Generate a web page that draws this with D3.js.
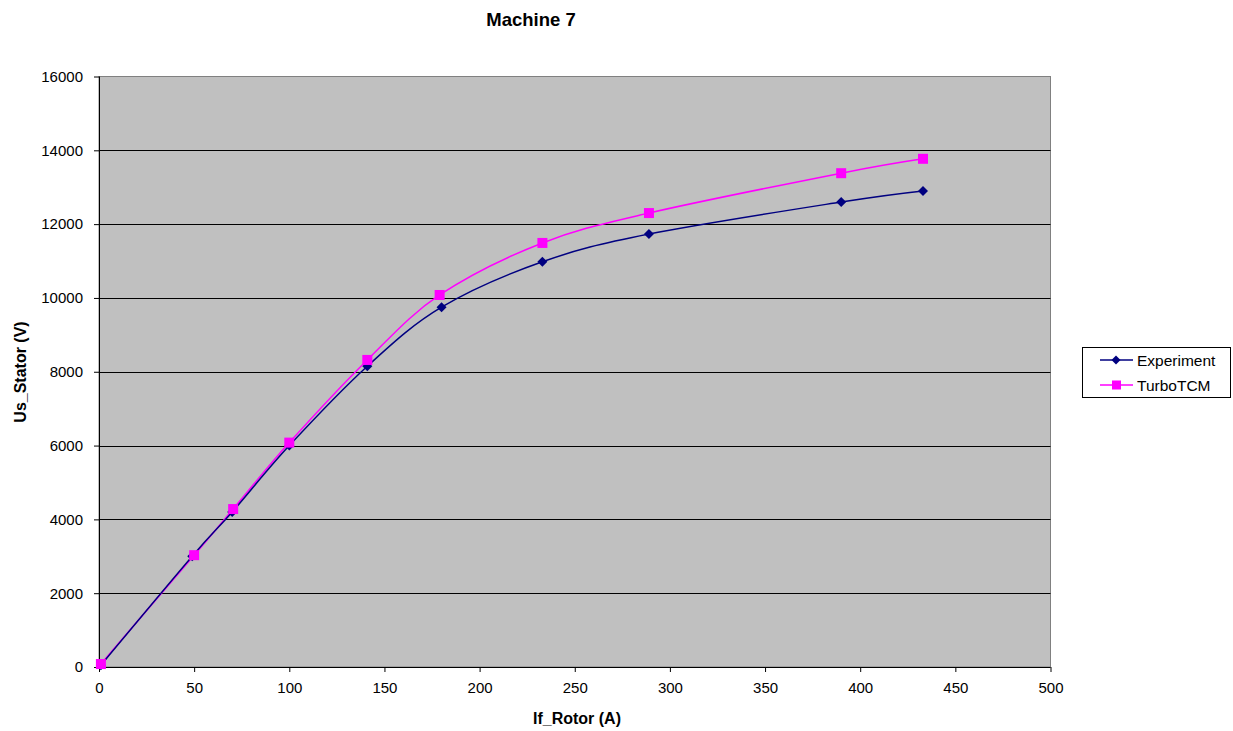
<!DOCTYPE html>
<html><head><meta charset="utf-8">
<script src="https://cdn.jsdelivr.net/npm/d3@7/dist/d3.min.js"></script>
<style>body{margin:0;background:#fff;} text{font-family:"Liberation Sans",Arial,sans-serif;}</style>
</head><body><svg id="c" width="1233" height="731"></svg>
<script>
const title = "Machine 7";
const xTitle = "If_Rotor (A)";
const yTitle = "Us_Stator (V)";
const seriesNames = ["Experiment", "TurboTCM"];
const expX = [1, 49, 70, 100, 141, 180, 233, 289, 390, 433];
const expY = [50, 3000, 4200, 6000, 8150, 9750, 10980, 11730, 12600, 12900];
const tcmX = [1, 50, 70.5, 100, 141, 179, 233, 289, 390, 433];
const tcmY = [80, 3030, 4280, 6080, 8320, 10080, 11490, 12300, 13380, 13770];
const xTicks = [0, 50, 100, 150, 200, 250, 300, 350, 400, 450, 500];
const yTicks = [0, 2000, 4000, 6000, 8000, 10000, 12000, 14000, 16000];

const svg = d3.select("#c");
const L = 99, R = 1050.5, T = 76.5, B = 667;
const x = d3.scaleLinear().domain([0, 500]).range([L, R]);
const y = d3.scaleLinear().domain([0, 16000]).range([B, T]);

svg.append("rect").attr("x", L).attr("y", T).attr("width", R - L).attr("height", B - T)
  .attr("fill", "#c0c0c0").attr("stroke", "#808080").attr("stroke-width", 1);

svg.append("g").selectAll("line").data(yTicks.filter(d => d > 0 && d < 16000)).join("line")
  .attr("x1", L).attr("x2", R).attr("y1", d => Math.round(y(d)) + 0.5).attr("y2", d => Math.round(y(d)) + 0.5)
  .attr("stroke", "#000").attr("stroke-width", 1);

const yAxis = d3.axisLeft(y).tickValues(yTicks).tickSize(5).tickPadding(11).tickFormat(d3.format("d"));
const gy = svg.append("g").attr("transform", `translate(${L},0)`).call(yAxis);
const xAxis = d3.axisBottom(x).tickValues(xTicks).tickSize(5).tickPadding(10).tickFormat(d3.format("d"));
const gx = svg.append("g").attr("transform", `translate(0,${B})`).call(xAxis);
[gx, gy].forEach(g => {
  g.select(".domain").attr("stroke", "#000");
  g.selectAll(".tick line").attr("stroke", "#000");
  g.selectAll("text").attr("font-size", 15).attr("fill", "#000").attr("font-family", '"Liberation Sans",Arial,sans-serif');
});
gy.select(".domain").attr("d", `M0.5,${T}V${B}`);
gx.select(".domain").attr("d", `M${L},0.5H${R}`);

const line = d3.line().x(d => x(d[0])).y(d => y(d[1])).curve(d3.curveCardinal.tension(0));
const expData = expX.map((v, i) => [v, expY[i]]);
const tcmData = tcmX.map((v, i) => [v, tcmY[i]]);

svg.append("path").datum(tcmData).attr("d", line).attr("fill", "none").attr("stroke", "#ff00ff").attr("stroke-width", 1.5);
svg.append("path").datum(expData).attr("d", line).attr("fill", "none").attr("stroke", "#000080").attr("stroke-width", 1.5);

const dia = r => `M0,${-r}L${r},0L0,${r}L${-r},0Z`;
svg.append("g").selectAll("path").data(expData).join("path")
  .attr("transform", d => `translate(${x(d[0])},${y(d[1])})`)
  .attr("d", dia(5)).attr("fill", "#000080");
svg.append("g").selectAll("rect").data(tcmData).join("rect")
  .attr("x", d => x(d[0]) - 5).attr("y", d => y(d[1]) - 5).attr("width", 10).attr("height", 10)
  .attr("fill", "#ff00ff");

svg.append("text").attr("x", 531).attr("y", 26).attr("text-anchor", "middle")
  .attr("font-size", 18.5).attr("font-weight", "bold").text(title);
svg.append("text").attr("x", 577).attr("y", 724).attr("text-anchor", "middle")
  .attr("font-size", 16).attr("font-weight", "bold").text(xTitle);
svg.append("text").attr("transform", "translate(26,372) rotate(-90)").attr("text-anchor", "middle")
  .attr("font-size", 16).attr("font-weight", "bold").text(yTitle);

const lg = svg.append("g");
lg.append("rect").attr("x", 1082.5).attr("y", 347.5).attr("width", 148).attr("height", 50)
  .attr("fill", "#fff").attr("stroke", "#000");
const colors = ["#000080", "#ff00ff"];
seriesNames.forEach((n, i) => {
  const yy = 360 + i * 25;
  lg.append("line").attr("x1", 1100).attr("x2", 1133).attr("y1", yy).attr("y2", yy)
    .attr("stroke", colors[i]).attr("stroke-width", 1.5);
  if (i === 0) {
    lg.append("path").attr("transform", `translate(1116,${yy})`).attr("d", dia(4.5)).attr("fill", colors[i]);
  } else {
    lg.append("rect").attr("x", 1112).attr("y", yy - 4.5).attr("width", 9).attr("height", 9).attr("fill", colors[i]);
  }
  lg.append("text").attr("x", 1137).attr("y", yy + 5.5).attr("font-size", 15.5).text(n);
});
</script></body></html>
